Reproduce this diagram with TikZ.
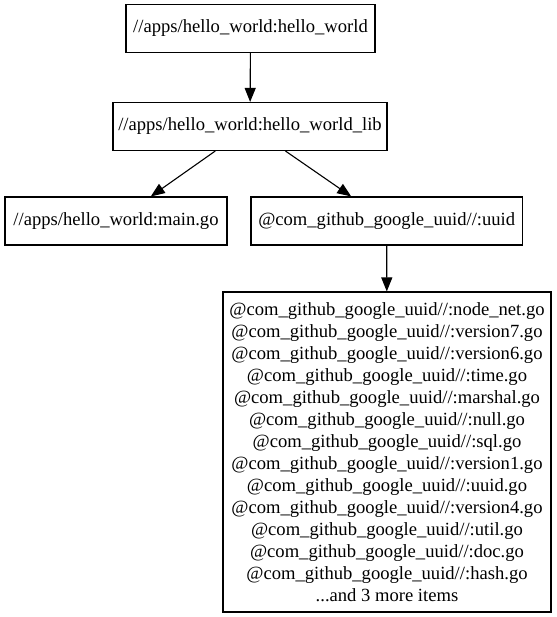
\documentclass[tikz,border=0pt]{standalone}
\usepackage{fontspec}
\setmainfont{Liberation Serif}
\usetikzlibrary{arrows.meta}
\tikzset{>={Triangle[length=14pt,width=11pt]}}
\tikzset{
  target/.style={draw, line width=1.1pt, fill=white, inner sep=0pt, align=center,
    font=\fontsize{18.6}{22}\selectfont, minimum height=48pt},
  dep/.style={->, line width=1.1pt},
}

\begin{document}
\begin{tikzpicture}[x=1pt, y=-1pt]
  \useasboundingbox (0,0) rectangle (556,617);
  % targets
  \node[target, minimum width=249pt] (hw) at (250.5,28.5) {//apps/hello\_world:hello\_world};
  \node[target, minimum width=274pt] (hwlib) at (250,126.5) {//apps/hello\_world:hello\_world\_lib};
  \node[target, minimum width=222pt] (maingo) at (116,221) {//apps/hello\_world:main.go};
  \node[target, minimum width=271.5pt] (uuid) at (386.7,221) {@com\_github\_google\_uuid//:uuid};
  \node[target, minimum width=328pt, minimum height=320pt] (uuidsrcs) at (387,452)
    {@com\_github\_google\_uuid//:node\_net.go\\
     @com\_github\_google\_uuid//:version7.go\\
     @com\_github\_google\_uuid//:version6.go\\
     @com\_github\_google\_uuid//:time.go\\
     @com\_github\_google\_uuid//:marshal.go\\
     @com\_github\_google\_uuid//:null.go\\
     @com\_github\_google\_uuid//:sql.go\\
     @com\_github\_google\_uuid//:version1.go\\
     @com\_github\_google\_uuid//:uuid.go\\
     @com\_github\_google\_uuid//:version4.go\\
     @com\_github\_google\_uuid//:util.go\\
     @com\_github\_google\_uuid//:doc.go\\
     @com\_github\_google\_uuid//:hash.go\\
     ...and 3 more items};
  % dependencies
  \draw[dep] (hw) -- (hwlib);
  \draw[dep] (hwlib) -- (maingo);
  \draw[dep] (hwlib) -- (uuid);
  \draw[dep] (uuid) -- (uuidsrcs);
\end{tikzpicture}
\end{document}
